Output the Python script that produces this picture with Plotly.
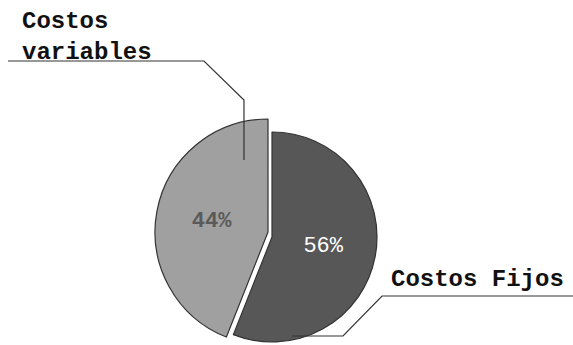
import plotly.graph_objects as go

categorias = ["Costos Fijos", "Costos variables"]
valores = [56, 44]
colores = ["#575757", "#a0a0a0"]
colores_texto = ["#ffffff", "#5a5a5a"]

W, H = 573, 345


def dom(cx, cy, r):
    # dominio en papel a partir de centro y radio en píxeles
    return dict(x=[(cx - r) / W, (cx + r) / W],
                y=[max(0, (H - cy - r) / H), min(1, (H - cy + r) / H)])


fig = go.Figure()
# sector de costos variables (separado), debajo
fig.add_trace(go.Pie(
    labels=categorias, values=valores, sort=False, direction="clockwise", rotation=0,
    marker=dict(colors=["rgba(0,0,0,0)", colores[1]],
                line=dict(color=["rgba(0,0,0,0)", "#333333"], width=1.2)),
    texttemplate=["", "<b>%{percent:.0%}</b>"],
    textposition="inside", insidetextorientation="horizontal",
    insidetextfont=dict(family="Liberation Mono", size=22, color=colores_texto[1]),
    domain=dom(268, 232, 113),
))
# sector de costos fijos
fig.add_trace(go.Pie(
    labels=categorias, values=valores, sort=False, direction="clockwise", rotation=0,
    marker=dict(colors=[colores[0], "rgba(0,0,0,0)"],
                line=dict(color=["#333333", "rgba(0,0,0,0)"], width=1.2)),
    texttemplate=["%{percent:.0%}", ""],
    textposition="inside", insidetextorientation="horizontal",
    insidetextfont=dict(family="Liberation Mono", size=22, color=colores_texto[0]),
    domain=dom(272, 237, 105),
))

annots = [
    dict(x=20 / W, y=1 - 6 / H, xref="paper", yref="paper", xanchor="left", yanchor="top",
         text="<b>Costos<br>variables</b>", showarrow=False, align="left",
         font=dict(family="Liberation Mono", size=24, color="#111111")),
    dict(x=389 / W, y=1 - 264 / H, xref="paper", yref="paper", xanchor="left", yanchor="top",
         text="<b>Costos Fijos</b>", showarrow=False,
         font=dict(family="Liberation Mono", size=24, color="#111111")),
]
fig['layout']['annotations'] = annots


def px2paper(pts):
    return " L ".join(f"{x / W:.4f},{1 - y / H:.4f}" for x, y in pts)


linea1 = [(8, 61), (204, 61), (244, 100), (244, 160)]
linea2 = [(573, 296), (382, 296), (343, 336), (292, 336)]
for pts in (linea1, linea2):
    fig.add_shape(type="path", xref="paper", yref="paper",
                  path="M " + px2paper(pts), line=dict(color="#333333", width=1.2))

fig.update_layout(
    width=W, height=H,
    margin=dict(l=0, r=0, t=0, b=0),
    paper_bgcolor="white", plot_bgcolor="white",
    showlegend=False,
    xaxis=dict(visible=False), yaxis=dict(visible=False),
)
fig.write_html("out.html", config={"displayModeBar": False},
               post_script="document.body.style.margin='0';")
